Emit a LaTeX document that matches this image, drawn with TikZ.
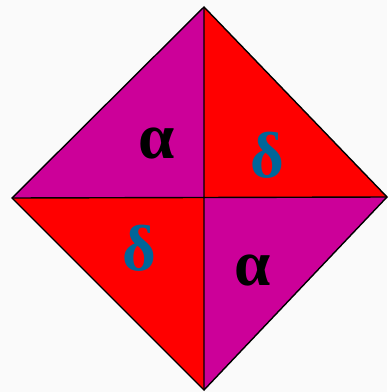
\documentclass[tikz,border=0pt]{standalone}
\usepackage{fontspec}
\setmainfont{Liberation Serif}
\usepackage{tikz}
\usetikzlibrary{calc}
\definecolor{mag}{HTML}{CC0099}
\definecolor{redd}{HTML}{FF0000}
\definecolor{bluedelta}{HTML}{006699}
\definecolor{bgpaper}{HTML}{FAFAFA}

\begin{document}
\begin{tikzpicture}[x=0.02cm,y=-0.02cm]
\fill[bgpaper] (0,0) rectangle (387,392);
\useasboundingbox (0,0) rectangle (387,392);
\coordinate (t) at (204,7);
\coordinate (l) at (12,198);
\coordinate (r) at (387,197);
\coordinate (b) at (204,390);
\coordinate (c) at (204,198);
\fill[mag] (l)--(t)--(c)--cycle;
\fill[redd] (t)--(r)--(c)--cycle;
\fill[redd] (l)--(c)--(b)--cycle;
\fill[mag] (c)--(r)--(b)--cycle;
\draw[thick] (t)--(r)--(b)--(l)--cycle;
\draw[thick] (t)--(b) (l)--(r);
\node[font=\fontsize{37}{40}\selectfont\bfseries] (a1) at (157,143){α};
\node[font=\fontsize{37}{40}\selectfont\bfseries,text=bluedelta] (d1) at (267,155){δ};
\node[font=\fontsize{37}{40}\selectfont\bfseries,text=bluedelta] (d2) at (139,248){δ};
\node[font=\fontsize{37}{40}\selectfont\bfseries] (a2) at (253,270){α};
\end{tikzpicture}
\end{document}
